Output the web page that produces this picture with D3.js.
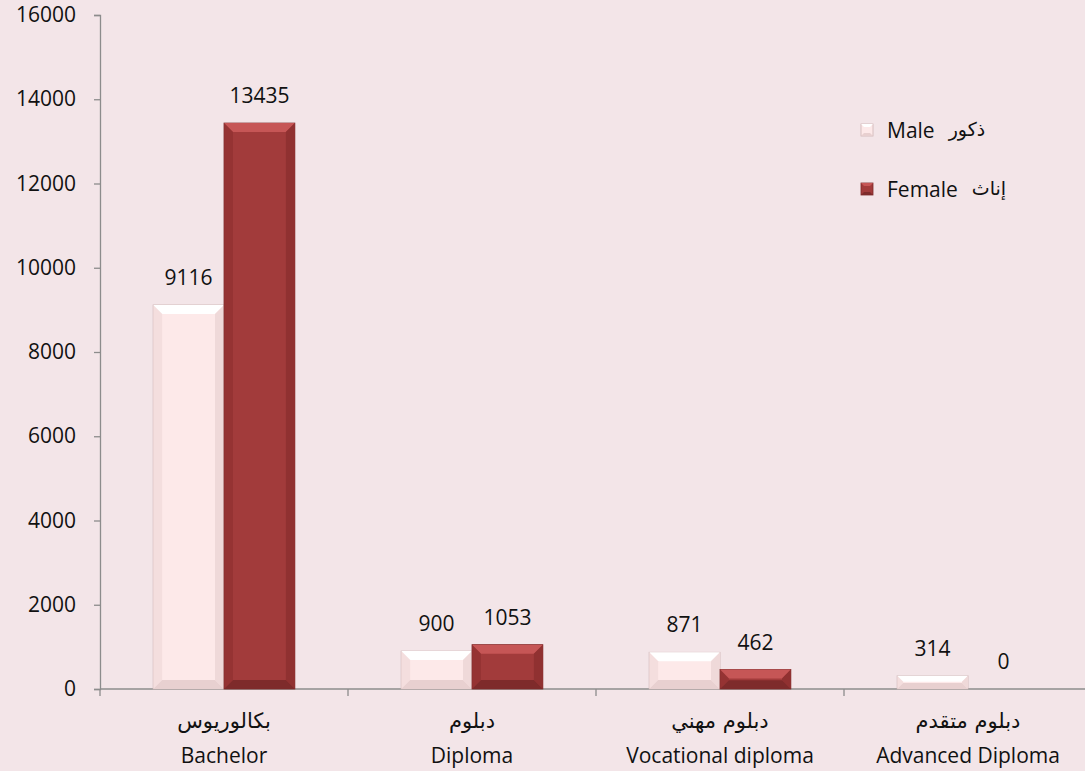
<!DOCTYPE html>
<html>
<head>
<meta charset="utf-8">
<script src="https://cdn.jsdelivr.net/npm/d3@7"></script>
<style>
  body { margin: 0; background: #f3e5e8; overflow: hidden; }
  text { font-family: "Open Sans", "DejaVu Sans", sans-serif; fill: #111; }
  .ar { font-family: "DejaVu Sans", sans-serif; }
</style>
</head>
<body>
<div id="chart"></div>
<script>
// data
var categoriesAr = ["بكالوريوس", "دبلوم", "دبلوم مهني", "دبلوم متقدم"];
var categoriesEn = ["Bachelor", "Diploma", "Vocational diploma", "Advanced Diploma"];
var maleValues = [9116, 900, 871, 314];
var femaleValues = [13435, 1053, 462, 0];
var seriesEn = ["Male", "Female"];
var seriesAr = ["ذكور", "إناث"];
var yTicks = [0, 2000, 4000, 6000, 8000, 10000, 12000, 14000, 16000];

var W = 1085, H = 771;
var margin = { top: 15, right: -7, bottom: 82, left: 100 },
    width = W - margin.left - margin.right,
    height = H - margin.top - margin.bottom;

var svg = d3.select("#chart").append("svg")
    .attr("width", W)
    .attr("height", H);

var g = svg.append("g")
    .attr("transform", "translate(" + margin.left + "," + margin.top + ")");

// scales
var x = d3.scaleBand().domain(d3.range(categoriesEn.length)).range([0, width]);
var x1 = d3.scaleBand().domain([0, 1]).range([0, x.bandwidth()]).paddingOuter(0.75).paddingInner(0);
var y = d3.scaleLinear().domain([0, 16000]).range([height, 0]);

var styles = [
    { main: "#fde9e9", top: "#ffffff", side: "#efd9d9", bottom: "#e8d0d0", edge: "#cdb5b5" },
    { main: "#a23b3b", top: "#c65656", side: "#903131", bottom: "#7e2b2b", edge: "#7a2a2a" }
];

// y axis
var yAxis = g.append("g")
    .call(d3.axisLeft(y).tickValues(yTicks).tickSize(6).tickPadding(18).tickFormat(d3.format("d")));
yAxis.selectAll("path, line").attr("stroke", "#8c8c8c").attr("stroke-width", 1.3);
yAxis.selectAll("text").style("font-size", "21px").attr("fill", "#111");

// x axis
var xAxis = g.append("g")
    .attr("transform", "translate(0," + height + ")");
xAxis.append("line")
    .attr("x1", 0).attr("x2", width)
    .attr("stroke", "#8c8c8c").attr("stroke-width", 1.3);
xAxis.selectAll(".tk")
    .data(d3.range(categoriesEn.length + 1))
    .enter().append("line")
    .attr("x1", function (d) { return d * x.step(); })
    .attr("x2", function (d) { return d * x.step(); })
    .attr("y1", 0).attr("y2", 7)
    .attr("stroke", "#8c8c8c").attr("stroke-width", 1.3);

// category labels
var cat = xAxis.selectAll(".cat")
    .data(d3.range(categoriesEn.length))
    .enter().append("g")
    .attr("transform", function (d) { return "translate(" + (x(d) + x.bandwidth() / 2) + ",0)"; });
cat.append("text")
    .attr("class", "ar")
    .attr("y", 39)
    .attr("text-anchor", "middle")
    .style("font-size", "21px")
    .attr("direction", "rtl")
    .text(function (d) { return categoriesAr[d]; });
cat.append("text")
    .attr("y", 74)
    .attr("text-anchor", "middle")
    .style("font-size", "21px")
    .text(function (d) { return categoriesEn[d]; });

// bevelled bar
function drawBar(sel, bx, bw, val, st) {
    var top = y(val), bot = y(0), h = bot - top;
    if (h <= 0) return;
    var b = Math.min(9, h / 2.2);
    sel.append("rect").attr("x", bx).attr("y", top).attr("width", bw).attr("height", h)
        .attr("fill", st.main).attr("stroke", st.edge).attr("stroke-width", 0.8);
    // top bevel
    sel.append("path")
        .attr("d", "M" + bx + "," + top + "L" + (bx + bw) + "," + top + "L" + (bx + bw - b) + "," + (top + b) + "L" + (bx + b) + "," + (top + b) + "Z")
        .attr("fill", st.top);
    // left bevel
    sel.append("path")
        .attr("d", "M" + bx + "," + top + "L" + (bx + b) + "," + (top + b) + "L" + (bx + b) + "," + (bot - b) + "L" + bx + "," + bot + "Z")
        .attr("fill", st.side).attr("opacity", 0.7);
    // right bevel
    sel.append("path")
        .attr("d", "M" + (bx + bw) + "," + top + "L" + (bx + bw - b) + "," + (top + b) + "L" + (bx + bw - b) + "," + (bot - b) + "L" + (bx + bw) + "," + bot + "Z")
        .attr("fill", st.side);
    // bottom bevel
    sel.append("path")
        .attr("d", "M" + bx + "," + bot + "L" + (bx + b) + "," + (bot - b) + "L" + (bx + bw - b) + "," + (bot - b) + "L" + (bx + bw) + "," + bot + "Z")
        .attr("fill", st.bottom);
}

var series = [maleValues, femaleValues];
series.forEach(function (vals, si) {
    vals.forEach(function (v, ci) {
        var bx = x(ci) + x1(si), bw = x1.bandwidth();
        drawBar(g.append("g"), bx, bw, v, styles[si]);
        g.append("text")
            .attr("x", bx + bw / 2)
            .attr("y", y(v) - 20)
            .attr("text-anchor", "middle")
            .style("font-size", "21px")
            .text(v);
    });
});

// legend
var legend = svg.append("g").attr("transform", "translate(861,130)");
seriesEn.forEach(function (name, i) {
    var lg = legend.append("g").attr("transform", "translate(0," + (i * 59) + ")");
    drawLegendBox(lg, styles[i]);
    var t = lg.append("text")
        .attr("x", 26).attr("y", 8)
        .style("font-size", "21px")
        .text(name);
    var tw = t.node().getComputedTextLength();
    lg.append("text")
        .attr("class", "ar")
        .attr("x", 26 + tw + 14).attr("y", 6)
        .style("font-size", "19px")
        .attr("direction", "rtl")
        .attr("text-anchor", "end")
        .text(seriesAr[i]);
});

function drawLegendBox(sel, st) {
    var s = 12, b = 3;
    sel.append("rect").attr("x", 0).attr("y", -6).attr("width", s).attr("height", s)
        .attr("fill", st.main).attr("stroke", st.edge).attr("stroke-width", 0.8);
    sel.append("path")
        .attr("d", "M0,-6L" + s + ",-6L" + (s - b) + "," + (-6 + b) + "L" + b + "," + (-6 + b) + "Z")
        .attr("fill", st.top);
    sel.append("path")
        .attr("d", "M0," + (s - 6) + "L" + b + "," + (s - 6 - b) + "L" + (s - b) + "," + (s - 6 - b) + "L" + s + "," + (s - 6) + "Z")
        .attr("fill", st.bottom);
}
</script>
</body>
</html>
